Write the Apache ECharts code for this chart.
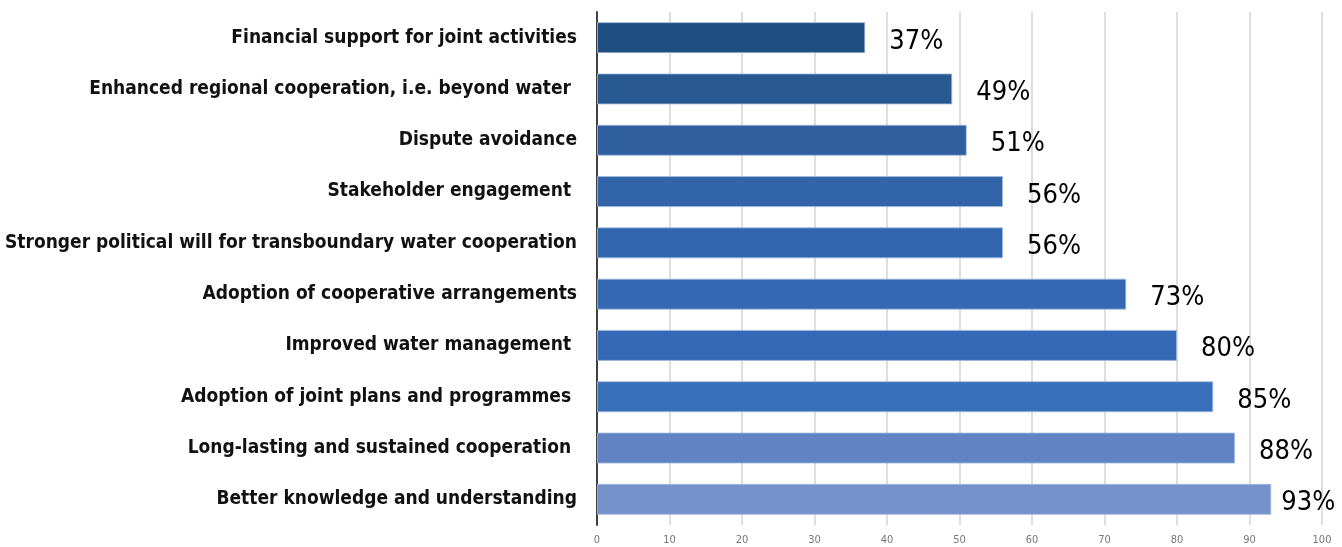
<!DOCTYPE html>
<html>
<head>
<meta charset="utf-8">
<script src="https://cdn.jsdelivr.net/npm/echarts@6/dist/echarts.min.js"></script>
<style>
  html, body { margin: 0; padding: 0; background: #fff; }
  #main { width: 1342px; height: 547px; }
</style>
</head>
<body>
<div id="main"></div>
<script>
const categories = [
  "Financial support for joint activities",
  "Enhanced regional cooperation, i.e. beyond water ",
  "Dispute avoidance",
  "Stakeholder engagement ",
  "Stronger political will for transboundary water cooperation",
  "Adoption of cooperative arrangements",
  "Improved water management ",
  "Adoption of joint plans and programmes ",
  "Long-lasting and sustained cooperation ",
  "Better knowledge and understanding"
];
const values = [37, 49, 51, 56, 56, 73, 80, 85, 88, 93];
const barColors = [
  "#1f4e80", "#285990", "#2f5f9e", "#3164a8", "#3166ae",
  "#3468b2", "#3569b5", "#386fb9", "#6283c2", "#7592ca"
];
const narrow = "'Liberation Sans Narrow', 'DejaVu Sans Condensed', sans-serif";

const myChart = echarts.init(document.getElementById("main"));
myChart.setOption({
  animation: false,
  grid: { left: 597, right: 20, top: 12, bottom: 22 },
  xAxis: {
    type: "value",
    min: 0,
    max: 100,
    interval: 10,
    axisLine: { show: false },
    axisTick: { show: false },
    axisLabel: { color: "#777", fontSize: 11, fontFamily: narrow, margin: 10 },
    splitLine: { lineStyle: { color: "#dedede", width: 2 } }
  },
  yAxis: {
    type: "category",
    inverse: true,
    data: categories,
    axisLine: { lineStyle: { color: "#404040", width: 2 } },
    axisTick: { show: false },
    axisLabel: {
      color: "#111",
      fontSize: 19,
      fontWeight: "bold",
      fontFamily: narrow,
      margin: 20
    }
  },
  series: [
    {
      type: "bar",
      barWidth: 31,
      data: values.map((v, i) => ({
        value: v,
        itemStyle: { color: barColors[i] },
        // last label sits closer to its bar so it fits in the frame
        label: i === values.length - 1 ? { distance: 10 } : undefined
      })),
      itemStyle: { borderColor: "rgba(160,185,225,0.8)", borderWidth: 1 },
      label: {
        show: true,
        position: "right",
        distance: 24,
        offset: [0, 4],
        formatter: "{c}%",
        color: "#000",
        fontSize: 27,
        fontFamily: narrow
      }
    }
  ]
});
</script>
</body>
</html>
